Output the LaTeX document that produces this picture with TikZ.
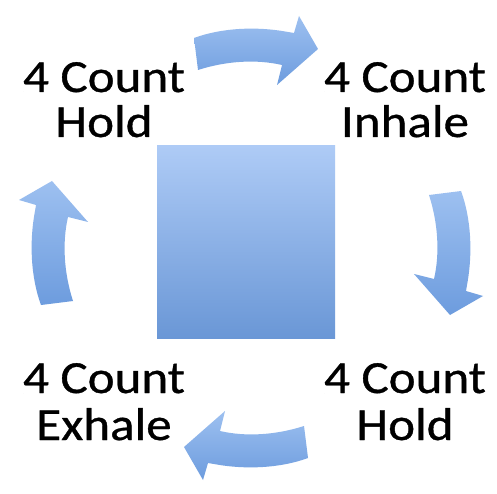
\documentclass[tikz,border=0pt]{standalone}
\usepackage{fontspec}
\setmainfont{Carlito}
\newfontfamily\lblfont[BoldFont=Carlito,BoldFeatures={FakeBold=0.7}]{Carlito}
\definecolor{sqtop}{HTML}{AECBF6}
\definecolor{sqbot}{HTML}{6A97D6}
\definecolor{arlight}{HTML}{9DC0F0}
\definecolor{ardark}{HTML}{6D9CDE}
\begin{document}
\begin{tikzpicture}[x=1pt,y=1pt,
  lbl/.style={anchor=base,inner sep=0pt,font=\lblfont\bfseries\fontsize{46}{45}\selectfont,xscale=1.11},
  cyc/.pic={
    \shade[top color=arlight,bottom color=ardark,shading angle=0]
      (-57,210) .. controls (-30,220) and (5,222) .. (37,216)
      -- (43,215) -- (48,232) -- (67,199) -- (26,163) -- (31,183)
      .. controls (5,189) and (-25,187) .. (-53,178) -- cycle;
  }]
\useasboundingbox (0,0) rectangle (497,493);
\fill[white] (0,0) rectangle (497,493);
\coordinate (c) at (251,245);
\node[minimum width=178pt,minimum height=192pt,inner sep=0pt,
  top color=sqtop,bottom color=sqbot] (square) at (246,251) {};
\pic (arrTop) at (c) {cyc};
\pic[rotate=-90] (arrRight) at (c) {cyc};
\pic[rotate=180] (arrBottom) at (c) {cyc};
\pic[rotate=90] (arrLeft) at (c) {cyc};
\node[lbl] (tl1) at (104,401) {4 Count};
\node[lbl] (tl2) at (104,356) {Hold};
\node[lbl] (tr1) at (405,401) {4 Count};
\node[lbl] (tr2) at (405,356) {Inhale};
\node[lbl] (bl1) at (104,100) {4 Count};
\node[lbl] (bl2) at (104,53) {Exhale};
\node[lbl] (br1) at (405,100) {4 Count};
\node[lbl] (br2) at (405,53) {Hold};
\end{tikzpicture}
\end{document}
